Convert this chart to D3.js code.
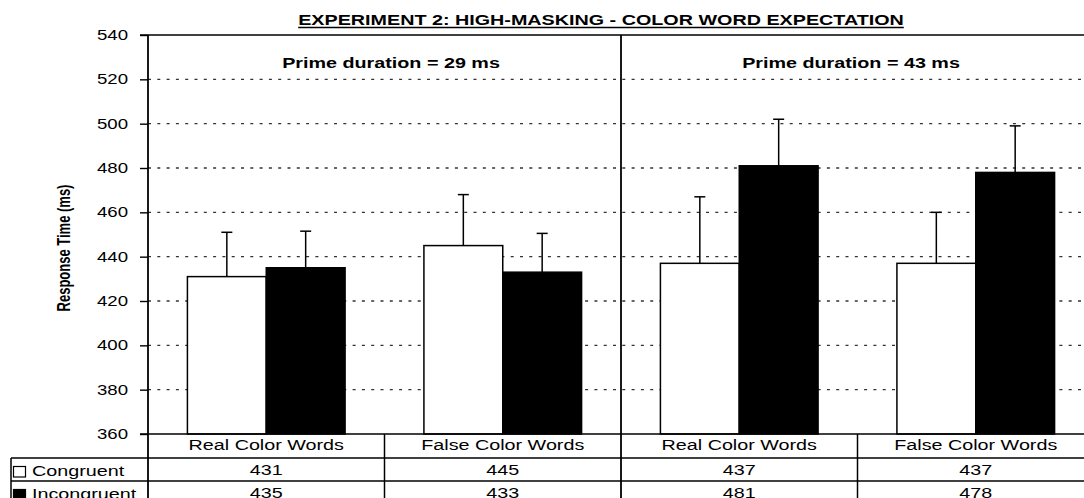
<!DOCTYPE html>
<html>
<head>
<meta charset="utf-8">
<script src="https://cdn.jsdelivr.net/npm/d3@7"></script>
<style>
  html, body { margin: 0; padding: 0; background: #fff; }
  svg { display: block; font-family: "Liberation Sans", Arial, Helvetica, sans-serif; }
</style>
</head>
<body>
<svg id="chart" width="1084" height="498"></svg>
<script>
// ---- data ----
const title = "EXPERIMENT 2: HIGH-MASKING - COLOR WORD EXPECTATION";
const panels = ["Prime duration = 29 ms", "Prime duration = 43 ms"];
const categories = ["Real Color Words", "False Color Words", "Real Color Words", "False Color Words"];
const series = ["Congruent", "Incongruent"];
const congruent = [431, 445, 437, 437];
const incongruent = [435, 433, 481, 478];
const congruentErr = [20, 23, 30, 23];
const incongruentErr = [16.5, 17.5, 21, 21];
const yTicks = [360, 380, 400, 420, 440, 460, 480, 500, 520, 540];
const yLabel = "Response Time (ms)";

// ---- layout ----
const W = 1084, H = 498;
const plotLeft = 148, plotTop = 35, plotBottom = 434;
const colW = 236.5;
const plotRight = plotLeft + colW * categories.length;
const rowH = [24, 23, 23];           // header, congruent, incongruent
const legendLeft = 11;
const SX = 1.41;                     // wide lettering used for titles and table
const SX_TICK = 1.33;
const panelLabelOffset = 230;        // panel captions sit this far either side of the divider

const svg = d3.select("#chart");

const y = d3.scaleLinear().domain([360, 540]).range([plotBottom, plotTop]);
const x = d3.scaleBand().domain(d3.range(categories.length)).range([plotLeft, plotRight]).paddingInner(0).paddingOuter(0);
const xs = d3.scaleBand().domain(series).range([0, x.bandwidth()]).paddingInner(0).paddingOuter(0.5);
const fills = { Congruent: "#ffffff", Incongruent: "#000000" };

const rows = categories.map((c, i) => ({
  i, cat: c,
  vals: [
    { s: "Congruent", v: congruent[i], e: congruentErr[i] },
    { s: "Incongruent", v: incongruent[i], e: incongruentErr[i] }
  ]
}));

function wideText(g, px, py, str, opts = {}) {
  return g.append("text")
    .attr("transform", `translate(${px},${py}) scale(${SX},1)`)
    .attr("text-anchor", opts.anchor || "middle")
    .attr("font-size", opts.size || 14)
    .attr("font-weight", opts.weight || "normal")
    .attr("fill", "#000")
    .text(str);
}

// ---- gridlines ----
svg.append("g").selectAll("line")
  .data(yTicks.filter(t => t > 360 && t < 540))
  .join("line")
  .attr("x1", plotLeft).attr("x2", W)
  .attr("y1", d => y(d)).attr("y2", d => y(d))
  .attr("stroke", "#333").attr("stroke-width", 1.4)
  .attr("stroke-dasharray", "3,6.3");

// ---- bars ----
const groups = svg.append("g").selectAll("g")
  .data(rows).join("g")
  .attr("transform", d => `translate(${x(d.i)},0)`);

groups.selectAll("rect")
  .data(d => d.vals).join("rect")
  .attr("x", d => xs(d.s))
  .attr("y", d => y(d.v))
  .attr("width", xs.bandwidth())
  .attr("height", d => y(360) - y(d.v))
  .attr("fill", d => fills[d.s])
  .attr("stroke", "#000").attr("stroke-width", 1.5);

// error bars (upper half only)
const eb = groups.selectAll("g.err").data(d => d.vals).join("g").attr("class", "err");
eb.append("line")
  .attr("x1", d => xs(d.s) + xs.bandwidth() / 2).attr("x2", d => xs(d.s) + xs.bandwidth() / 2)
  .attr("y1", d => y(d.v)).attr("y2", d => y(d.v + d.e))
  .attr("stroke", "#000").attr("stroke-width", 1.5);
eb.append("line")
  .attr("x1", d => xs(d.s) + xs.bandwidth() / 2 - 5.5).attr("x2", d => xs(d.s) + xs.bandwidth() / 2 + 5.5)
  .attr("y1", d => y(d.v + d.e)).attr("y2", d => y(d.v + d.e))
  .attr("stroke", "#000").attr("stroke-width", 1.5);

// ---- frame lines ----
const frame = svg.append("g").attr("stroke", "#000");
frame.append("line").attr("x1", plotLeft - 8).attr("x2", W).attr("y1", plotTop).attr("y2", plotTop).attr("stroke-width", 1.6);
frame.append("line").attr("x1", plotLeft - 8).attr("x2", W).attr("y1", plotBottom).attr("y2", plotBottom).attr("stroke-width", 1.6);
// panel divider
const divX = x(2);
frame.append("line").attr("x1", divX).attr("x2", divX).attr("y1", plotTop).attr("y2", H).attr("stroke-width", 1.8);

// ---- y axis ----
const yAxis = d3.axisLeft(y).tickValues(yTicks).tickSize(8).tickFormat(d3.format("d"));
const ya = svg.append("g").attr("transform", `translate(${plotLeft},0)`).call(yAxis);
ya.select(".domain").remove();
ya.append("line").attr("x1", 0).attr("x2", 0).attr("y1", plotTop).attr("y2", H).attr("stroke", "#000").attr("stroke-width", 1.8);
ya.selectAll(".tick line").attr("stroke", "#000").attr("stroke-width", 1.4);
ya.selectAll(".tick text")
  .attr("x", -15).attr("transform", `scale(${SX_TICK},1)`)
  .attr("font-size", 14).attr("fill", "#000")
  .attr("font-family", "Liberation Sans, Arial, sans-serif");

svg.append("text")
  .attr("transform", `translate(63,248) scale(1.45,1) rotate(-90)`)
  .attr("text-anchor", "middle")
  .attr("font-size", 13).attr("font-weight", "bold")
  .attr("dy", "0.35em")
  .text(yLabel);

// ---- titles ----
const titleX = 601;
const t = wideText(svg, titleX, 25, title, { weight: "bold", size: 14 });
const tw = t.node().getComputedTextLength() * SX;
svg.append("line").attr("x1", titleX - tw / 2).attr("x2", titleX + tw / 2)
  .attr("y1", 27.5).attr("y2", 27.5).attr("stroke", "#000").attr("stroke-width", 1.5);

panels.forEach((p, k) => {
  const cx = divX + (k === 0 ? -panelLabelOffset : panelLabelOffset);
  wideText(svg, cx, 68, p, { weight: "bold", size: 14 });
});

// ---- data table ----
const tbl = svg.append("g");
const yHead = plotBottom, yRow1 = yHead + rowH[0], yRow2 = yRow1 + rowH[1], yRow3 = yRow2 + rowH[2];

tbl.append("line").attr("x1", legendLeft).attr("x2", W).attr("y1", yRow1).attr("y2", yRow1).attr("stroke", "#000").attr("stroke-width", 1.5);
tbl.append("line").attr("x1", legendLeft).attr("x2", W).attr("y1", yRow2).attr("y2", yRow2).attr("stroke", "#000").attr("stroke-width", 1.5);
tbl.append("line").attr("x1", legendLeft).attr("x2", W).attr("y1", yRow3).attr("y2", yRow3).attr("stroke", "#000").attr("stroke-width", 1.5);
tbl.append("line").attr("x1", legendLeft).attr("x2", legendLeft).attr("y1", yRow1).attr("y2", H).attr("stroke", "#000").attr("stroke-width", 1.5);
[1, 3].forEach(i => {
  tbl.append("line").attr("x1", x(i)).attr("x2", x(i)).attr("y1", yHead).attr("y2", H).attr("stroke", "#000").attr("stroke-width", 1.5);
});

categories.forEach((c, i) => {
  const cx = x(i) + x.bandwidth() / 2;
  wideText(tbl, cx, yHead + 16, c, { size: 14 });
  wideText(tbl, cx, yRow1 + 17, congruent[i], { size: 14 });
  wideText(tbl, cx, yRow2 + 17, incongruent[i], { size: 14 });
});

// legend cells
[[yRow1, series[0]], [yRow2, series[1]]].forEach(([ry, s]) => {
  tbl.append("rect").attr("x", 13.5).attr("y", ry + 8.5).attr("width", 12).attr("height", 10.5)
    .attr("fill", fills[s]).attr("stroke", "#000").attr("stroke-width", 1.2);
  wideText(tbl, 32, ry + 18, s, { size: 14, anchor: "start" });
});
</script>
</body>
</html>
